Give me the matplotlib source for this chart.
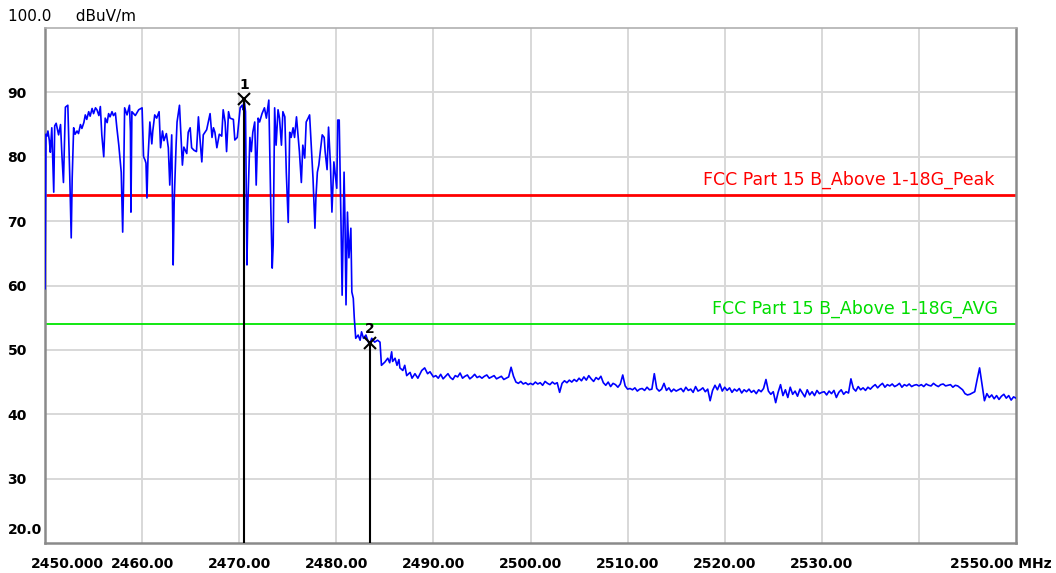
import numpy as np
import matplotlib
matplotlib.use("Agg")
import matplotlib.pyplot as plt

# Sweep 2450-2490 MHz (band edge region), read point by point
freq_band = [
    2450.0, 2450.1, 2450.2, 2450.3, 2450.45, 2450.55, 2450.7, 2450.9, 2451.0, 2451.15,
    2451.4, 2451.6, 2451.75, 2451.9, 2452.1, 2452.35, 2452.55, 2452.7, 2452.8, 2452.95,
    2453.1, 2453.3, 2453.45, 2453.65, 2453.8, 2454.0, 2454.15, 2454.3, 2454.5, 2454.65,
    2454.85, 2455.0, 2455.2, 2455.35, 2455.55, 2455.7, 2455.85, 2456.05, 2456.2, 2456.4,
    2456.55, 2456.7, 2456.9, 2457.05, 2457.25, 2457.4, 2457.6, 2457.85, 2458.0, 2458.1,
    2458.2, 2458.45, 2458.7, 2458.8, 2458.85, 2458.95, 2459.3, 2459.65, 2460.0, 2460.15,
    2460.3, 2460.4, 2460.5, 2460.6, 2460.8, 2461.0, 2461.1, 2461.3, 2461.5, 2461.75,
    2461.9, 2462.1, 2462.25, 2462.5, 2462.7, 2462.85, 2463.05, 2463.2, 2463.3, 2463.5,
    2463.6, 2463.85, 2464.0, 2464.15, 2464.3, 2464.6, 2464.75, 2464.95, 2465.1, 2465.35,
    2465.6, 2465.8, 2465.95, 2466.15, 2466.3, 2466.65, 2467.0, 2467.2, 2467.35, 2467.5,
    2467.7, 2467.95, 2468.2, 2468.35, 2468.55, 2468.7, 2468.9, 2469.05, 2469.4, 2469.55,
    2469.8, 2470.1, 2470.3, 2470.4, 2470.5, 2470.65, 2470.8, 2470.9, 2471.1, 2471.25,
    2471.4, 2471.6, 2471.75, 2471.95, 2472.1, 2472.35, 2472.6, 2472.8, 2473.05, 2473.25,
    2473.4, 2473.5, 2473.65, 2473.8, 2474.0, 2474.15, 2474.35, 2474.5, 2474.7, 2474.85,
    2475.05, 2475.2, 2475.35, 2475.55, 2475.7, 2475.9, 2476.05, 2476.2, 2476.4, 2476.55,
    2476.75, 2476.9, 2477.1, 2477.25, 2477.45, 2477.6, 2477.8, 2477.9, 2478.05, 2478.2,
    2478.35, 2478.55, 2478.75, 2478.85, 2479.05, 2479.2, 2479.4, 2479.55, 2479.75, 2479.9,
    2480.05, 2480.15, 2480.3, 2480.5, 2480.6, 2480.8, 2480.9, 2481.0, 2481.15, 2481.3,
    2481.5, 2481.6, 2481.75, 2481.85, 2482.0, 2482.25, 2482.45, 2482.6, 2482.8, 2483.05,
    2483.3, 2483.45, 2483.65, 2483.95, 2484.25, 2484.5, 2484.65, 2485.0, 2485.3, 2485.5,
    2485.7, 2485.8, 2486.05, 2486.25, 2486.45, 2486.55, 2486.85, 2487.05, 2487.25, 2487.6,
    2487.8, 2488.1, 2488.4, 2488.8, 2489.1, 2489.4, 2489.65, 2490.0,
]
level_band = [
    59.5, 83.5, 83.2, 84.0, 82.5, 80.7, 84.5, 74.5, 84.8, 85.2,
    83.4, 85.0, 80.0, 76.0, 87.7, 88.0, 77.0, 67.4, 76.7, 84.5,
    83.5, 84.0, 83.6, 85.0, 84.4, 85.3, 86.5, 85.8, 87.0, 86.3,
    87.5, 86.7, 87.6, 87.3, 86.4, 87.8, 83.4, 80.0, 86.0, 85.3,
    86.7, 86.2, 87.0, 86.4, 86.8, 84.5, 81.8, 77.6, 68.3, 76.5,
    87.6, 86.5, 88.0, 84.0, 71.4, 87.0, 86.4, 87.3, 87.6, 80.0,
    79.5, 79.0, 73.6, 79.5, 85.4, 82.0, 84.0, 86.5, 86.0, 87.0,
    81.4, 84.0, 82.5, 83.6, 81.4, 75.6, 83.4, 63.2, 72.8, 81.8,
    85.4, 88.0, 83.4, 78.7, 81.5, 80.5, 83.8, 84.5, 81.4, 81.0,
    80.8, 86.2, 83.0, 79.2, 83.4, 84.2, 86.7, 83.0, 84.5, 83.8,
    81.4, 83.5, 83.2, 87.3, 85.4, 80.8, 87.0, 86.0, 85.8, 82.6,
    83.0, 87.6, 88.0, 87.3, 89.0, 87.0, 63.2, 73.0, 83.0, 80.8,
    83.8, 85.4, 75.6, 86.0, 85.4, 86.7, 87.6, 86.0, 88.8, 72.5,
    62.7, 66.3, 87.6, 81.8, 87.3, 86.0, 81.8, 87.0, 86.2, 77.6,
    69.8, 83.8, 83.0, 84.5, 83.0, 86.2, 83.4, 80.8, 76.0, 81.8,
    79.8, 85.4, 86.0, 86.5, 80.8, 76.7, 68.9, 73.6, 77.6, 78.7,
    80.8, 83.4, 83.0, 80.8, 78.0, 84.6, 78.7, 71.4, 79.2, 77.2,
    75.1, 85.7, 85.7, 68.3, 58.5, 77.6, 69.4, 57.0, 71.4, 64.3,
    68.9, 59.0, 58.0, 55.0, 51.8, 52.3, 51.5, 52.8, 51.8, 52.3,
    51.2, 51.0, 51.8, 51.2, 51.5, 51.2, 47.6, 48.1, 48.7, 48.0,
    49.7, 48.2, 48.7, 47.6, 48.5, 47.2, 46.8, 47.6, 46.0, 46.5,
    45.6, 46.3, 45.6, 46.8, 47.2, 46.3, 46.6, 45.8,
]

# Sweep 2490.25-2550 MHz, 0.25 MHz steps (one row = 5 MHz)
level_tail = [
    46.0, 45.6, 46.2, 45.5, 45.9, 46.3, 45.7, 45.4, 46.0, 45.8, 46.4, 45.6, 45.9, 46.1, 45.5, 45.8, 46.2, 45.7, 45.9, 45.6,
    45.9, 46.1, 45.6, 45.8, 46.0, 45.5, 45.7, 45.9, 45.4, 45.6, 45.8, 47.3, 45.9, 45.0, 44.8, 45.1, 44.7, 44.9, 44.6, 44.8,
    44.6, 45.0, 44.7, 44.9, 44.5, 45.1, 44.8, 44.6, 45.0, 44.7, 44.9, 43.4, 44.8, 45.2, 44.9, 45.3, 45.0, 45.4, 45.1, 45.6,
    45.2, 45.8, 45.3, 46.0, 45.5, 45.1, 45.7, 45.4, 45.9, 44.9, 44.5, 45.0, 44.3, 44.8, 44.6, 44.2, 44.7, 46.1, 44.4, 43.9,
    44.0, 43.8, 44.1, 43.6, 43.9, 44.0, 43.7, 44.2, 43.8, 43.9, 46.3, 44.0, 43.6, 43.9, 44.8, 43.7, 44.1, 43.5, 43.9, 43.6,
    43.8, 44.0, 43.5, 44.2, 43.7, 43.9, 43.4, 44.3, 43.6, 43.8, 44.1, 43.5, 43.9, 42.1, 43.7, 44.5, 43.8, 44.7, 43.6, 44.2,
    43.7, 44.1, 43.4, 43.9, 43.6, 44.0, 43.3, 43.8, 43.5, 43.9, 43.4, 43.7, 43.2, 43.8, 43.5, 44.0, 45.4, 43.6, 43.1, 43.5,
    41.8, 43.4, 44.6, 42.9, 43.8, 42.6, 44.2, 43.1, 43.6, 42.8, 43.9, 43.3, 42.7, 43.8, 43.0, 43.5, 42.9, 43.7, 43.2, 43.4,
    43.5, 43.0, 43.6, 43.2, 43.7, 42.6, 43.4, 43.8, 43.1, 43.5, 43.3, 45.5, 44.0, 43.6, 44.3, 43.8, 44.1, 43.7, 44.2, 43.9,
    44.3, 44.6, 44.1, 44.5, 44.8, 44.2, 44.6, 44.4, 44.7, 44.3, 44.5, 44.8, 44.2, 44.6, 44.4, 44.7, 44.3, 44.5, 44.6, 44.4,
    44.6, 44.3, 44.7, 44.5, 44.4, 44.8, 44.5, 44.3, 44.6, 44.7, 44.4, 44.5, 44.6, 44.2, 44.5, 44.4, 44.1, 43.8, 43.2, 43.0,
    43.1, 43.3, 43.5, 45.4, 47.2, 44.6, 42.1, 43.2, 42.6, 43.0, 42.4, 42.9, 42.3, 42.8, 43.1, 42.5, 42.9, 42.2, 42.7, 42.5,
]
freq_tail = np.linspace(2490.25, 2550.0, len(level_tail))

freq = np.concatenate([freq_band, freq_tail])
level = np.concatenate([level_band, level_tail])

# Limit lines
peak_limit = 74.0
avg_limit = 54.0
peak_name = "FCC Part 15 B_Above 1-18G_Peak"
avg_name = "FCC Part 15 B_Above 1-18G_AVG"

# Markers
mk_num = ["1", "2"]
mk_freq = [2470.5, 2483.45]
mk_level = [89.0, 51.0]

x_ticks = [2460, 2470, 2480, 2490, 2500, 2510, 2520, 2530]
y_ticks = [30, 40, 50, 60, 70, 80, 90]

fig = plt.figure(figsize=(10.56, 5.73), dpi=100)
ax = fig.add_axes([45 / 1056, 1 - 543 / 573, 971 / 1056, 515 / 573])

ax.set_xlim(2450, 2550)
ax.set_ylim(20, 100)

# grid
for gx in range(2460, 2550, 10):
    ax.axvline(gx, color="#d8d8d8", lw=1.4, zorder=0)
for gy in range(30, 100, 10):
    ax.axhline(gy, color="#d8d8d8", lw=1.4, zorder=0)

ax.axhline(peak_limit, color="#ff0000", lw=2.0, zorder=2)
ax.axhline(avg_limit, color="#00e600", lw=1.3, zorder=2)
ax.text(2547.8, peak_limit + 1.0, peak_name, color="#ff0000", fontsize=12.5,
        ha="right", va="bottom")
ax.text(2548.1, avg_limit + 1.0, avg_name, color="#00dd00", fontsize=12.5,
        ha="right", va="bottom")

ax.plot(freq, level, color="#0000ff", lw=1.2, zorder=3)

ax.vlines(mk_freq, 20, mk_level, color="black", lw=1.5, zorder=4)
ax.plot(mk_freq, mk_level, "x", color="black", ms=8, mew=1.5, zorder=5)
for n, f, v in zip(mk_num, mk_freq, mk_level):
    ax.annotate(n, (f, v), xytext=(0, 5), textcoords="offset points",
                ha="center", va="bottom", fontsize=10, fontweight="bold")

# axes frame
for side in ["left", "right", "bottom"]:
    ax.spines[side].set_color("#8a8a8a")
    ax.spines[side].set_linewidth(1.8)
ax.spines["top"].set_color("#b0b0b0")
ax.spines["top"].set_linewidth(1.2)

ax.set_xticks(x_ticks, [f"{t:.2f}" for t in x_ticks])
ax.set_yticks(y_ticks, [str(t) for t in y_ticks])
ax.tick_params(length=0)
ax.tick_params(axis="x", pad=10, labelsize=10)
ax.tick_params(axis="y", pad=27, labelsize=10)
for lbl in ax.get_xticklabels() + ax.get_yticklabels():
    lbl.set_fontweight("bold")
for lbl in ax.get_yticklabels():
    lbl.set_horizontalalignment("left")

# end labels of both axes
ax.annotate("2450.000", (0, 0), xycoords="axes fraction", xytext=(-10, -10),
            textcoords="offset points", ha="left", va="top", fontsize=10,
            fontweight="bold")
ax.annotate("2550.00 MHz", (1, 0), xycoords="axes fraction", xytext=(26, -10),
            textcoords="offset points", ha="right", va="top", fontsize=10,
            fontweight="bold")
ax.annotate("20.0", (0, 0), xycoords="axes fraction", xytext=(-27, 4),
            textcoords="offset points", ha="left", va="bottom", fontsize=10,
            fontweight="bold")
ax.annotate("100.0     dBuV/m", (0, 1), xycoords="axes fraction", xytext=(-27, 3),
            textcoords="offset points", ha="left", va="bottom", fontsize=11)

fig.savefig("out.png", dpi=100, facecolor="white")
